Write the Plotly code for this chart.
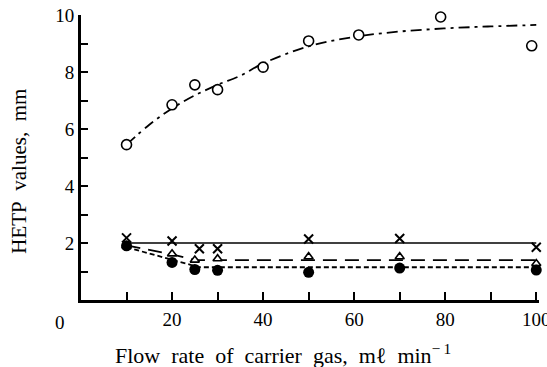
import plotly.graph_objects as go

# Measured HETP values (mm) against carrier-gas flow rate (ml/min)
flow_open = [10, 20, 25, 30, 40, 50, 61, 79, 99]
hetp_open = [5.45, 6.85, 7.55, 7.38, 8.17, 9.09, 9.3, 9.93, 8.92]

flow_cross = [10, 20, 26, 30, 50, 70, 100]
hetp_cross = [2.18, 2.07, 1.8, 1.8, 2.14, 2.16, 1.85]

flow_tri = [10, 20, 25, 30, 50, 70, 100]
hetp_tri = [1.9, 1.62, 1.4, 1.45, 1.52, 1.52, 1.28]

flow_dot = [10, 20, 25, 30, 50, 70, 100]
hetp_dot = [1.9, 1.32, 1.07, 1.04, 0.97, 1.12, 1.05]

# Hand-drawn trend curves through each series
fit_open_x = [10, 15, 20, 25, 30, 35, 40, 50, 60, 70, 80, 90, 100]
fit_open_y = [5.45, 6.15, 6.72, 7.18, 7.55, 7.87, 8.3, 8.9, 9.23, 9.42, 9.53, 9.6, 9.65]

fit_cross_x = [10, 100]
fit_cross_y = [2.0, 2.0]

fit_tri_x = [10, 20, 25, 100]
fit_tri_y = [1.92, 1.6, 1.4, 1.4]

fit_dot_x = [10, 20, 26, 100]
fit_dot_y = [1.85, 1.42, 1.15, 1.15]

x_ticks = [10, 20, 30, 40, 50, 60, 70, 80, 90, 100]
x_labels = ["", "20", "", "40", "", "60", "", "80", "", "100"]
y_ticks = [1, 2, 3, 4, 5, 6, 7, 8, 9, 10]
y_labels = ["", "2", "", "4", "", "6", "", "8", "", "10"]

SERIF = "Times New Roman"
INK = "black"

fig = go.Figure()

# trend lines
fig.add_trace(go.Scatter(x=fit_open_x, y=fit_open_y, mode="lines",
                         line=dict(color=INK, width=1.8, dash="11px,5px,3px,5px", shape="spline"),
                         hoverinfo="skip"))
fig.add_trace(go.Scatter(x=fit_cross_x, y=fit_cross_y, mode="lines",
                         line=dict(color=INK, width=1.5), hoverinfo="skip"))
fig.add_trace(go.Scatter(x=fit_tri_x, y=fit_tri_y, mode="lines",
                         line=dict(color=INK, width=1.8, dash="14px,8px"), hoverinfo="skip"))
fig.add_trace(go.Scatter(x=fit_dot_x, y=fit_dot_y, mode="lines",
                         line=dict(color=INK, width=1.8, dash="5px,3px"), hoverinfo="skip"))

# data points
fig.add_trace(go.Scatter(x=flow_open, y=hetp_open, mode="markers", cliponaxis=False,
                         marker=dict(symbol="circle", size=10, color="white",
                                     line=dict(color=INK, width=1.6))))
fig.add_trace(go.Scatter(x=flow_tri, y=hetp_tri, mode="markers", cliponaxis=False,
                         marker=dict(symbol="triangle-up", size=8, color="white",
                                     line=dict(color=INK, width=1.6))))
fig.add_trace(go.Scatter(x=flow_dot, y=hetp_dot, mode="markers", cliponaxis=False,
                         marker=dict(symbol="circle", size=11, color=INK)))
fig.add_trace(go.Scatter(x=flow_cross, y=hetp_cross, mode="markers", cliponaxis=False,
                         marker=dict(symbol="x-thin", size=9, color=INK,
                                     line=dict(color=INK, width=2))))

fig.update_layout(
    width=547, height=367,
    margin=dict(l=81, r=8, t=15, b=67, autoexpand=False),
    paper_bgcolor="white", plot_bgcolor="white",
    showlegend=False,
    font=dict(family=SERIF, color=INK, size=19),
    xaxis=dict(range=[0, 100.6], showgrid=False, zeroline=False, automargin=False,
               showline=True, linecolor=INK, linewidth=3,
               tickmode="array", tickvals=x_ticks, ticktext=x_labels,
               ticks="inside", ticklen=8, tickwidth=2, tickcolor=INK,
               ticklabeloverflow="allow",
               tickfont=dict(family=SERIF, size=19)),
    yaxis=dict(range=[0, 10], showgrid=False, zeroline=False, automargin=False,
               showline=True, linecolor=INK, linewidth=3,
               tickmode="array", tickvals=y_ticks, ticktext=y_labels,
               ticks="inside", ticklen=7, tickwidth=2, tickcolor=INK,
               ticklabeloverflow="allow",
               tickfont=dict(family=SERIF, size=19)),
)

fig.add_annotation(text="0", xref="paper", yref="paper", x=-0.03, y=0,
                   xanchor="right", yanchor="top", yshift=-10, showarrow=False,
                   font=dict(family=SERIF, size=19))
fig.add_annotation(text="Flow\u00a0 rate\u00a0 of\u00a0 carrier\u00a0 gas,\u00a0 mℓ\u00a0 min<sup>\u2212\u20091</sup>",
                   xref="paper", yref="paper", x=0.44, y=0, xanchor="center", yanchor="top",
                   yshift=-38, showarrow=False, font=dict(family=SERIF, size=22))
fig.add_annotation(text="HETP\u00a0 values,\u00a0 mm", textangle=-90,
                   xref="paper", yref="paper", x=0, y=0.45, xanchor="center", yanchor="middle",
                   xshift=-62, showarrow=False, font=dict(family=SERIF, size=21))

fig.write_html("out.html")
